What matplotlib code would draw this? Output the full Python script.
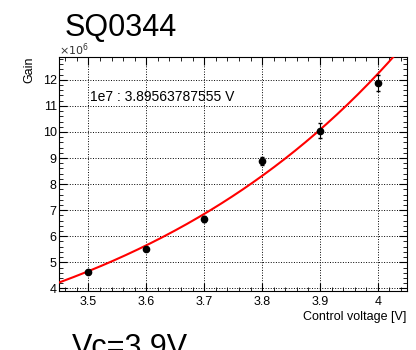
import matplotlib
matplotlib.use("Agg")
import matplotlib.pyplot as plt
import matplotlib.ticker as ticker
import numpy as np

plt.rcParams["font.family"] = ["Liberation Sans", "DejaVu Sans"]

# measured gain vs control voltage (units of 1e6)
voltage = [3.5, 3.6, 3.7, 3.8, 3.9, 4.0]
gain = [4.64, 5.51, 6.66, 8.90, 10.05, 11.87]
gain_err = [0.05, 0.08, 0.10, 0.15, 0.28, 0.30]

# exponential fit: gain = 1e7 * exp(SLOPE * (V - V_1E7))
V_1E7 = 3.89563787555
SLOPE = 1.93

fig = plt.figure(figsize=(4.16, 3.5), dpi=100)
ax = fig.add_axes([0.143, 0.1686, 0.835, 0.669])

vv = np.linspace(3.45, 4.05, 200)
ax.plot(vv, 10.0 * np.exp(SLOPE * (vv - V_1E7)), color="red", lw=1.5, zorder=3)
ax.errorbar(voltage, gain, yerr=gain_err, fmt="o", color="black", ms=4.5,
            elinewidth=0.8, capsize=1.5, zorder=4)

ax.text(3.503, 11.35, f"1e7 : {V_1E7} V", fontsize=10, va="center")

ax.set_xlim(3.45, 4.05)
ax.set_ylim(3.9, 12.88)
ax.xaxis.set_major_locator(ticker.MultipleLocator(0.1))
ax.xaxis.set_minor_locator(ticker.MultipleLocator(0.02))
ax.yaxis.set_major_locator(ticker.MultipleLocator(1))
ax.yaxis.set_minor_locator(ticker.MultipleLocator(0.2))
ax.xaxis.set_major_formatter(ticker.FuncFormatter(lambda v, p: f"{v:g}"))
ax.tick_params(which="both", direction="in", top=True, right=True, labelsize=9)
ax.tick_params(which="major", length=6, width=0.8)
ax.tick_params(which="minor", length=3, width=0.6)
ax.tick_params(axis="y", pad=2)
ax.grid(which="major", color="black", linestyle=":", linewidth=0.7)

ax.set_xlabel("Control voltage [V]", fontsize=9, loc="right", labelpad=2)
ax.set_ylabel("Gain", fontsize=9, loc="top")
ax.yaxis.set_label_coords(-0.07, 1.0)
fig.text(0.141, 0.845, r"$\times10^{6}$", fontsize=8, color="#333333")

fig.text(0.156, 0.92, "SQ0344", fontsize=22, va="center")
fig.text(0.173, 0.005, "Vc=3.9V", fontsize=22, va="center")

fig.savefig("out.png", dpi=100)
